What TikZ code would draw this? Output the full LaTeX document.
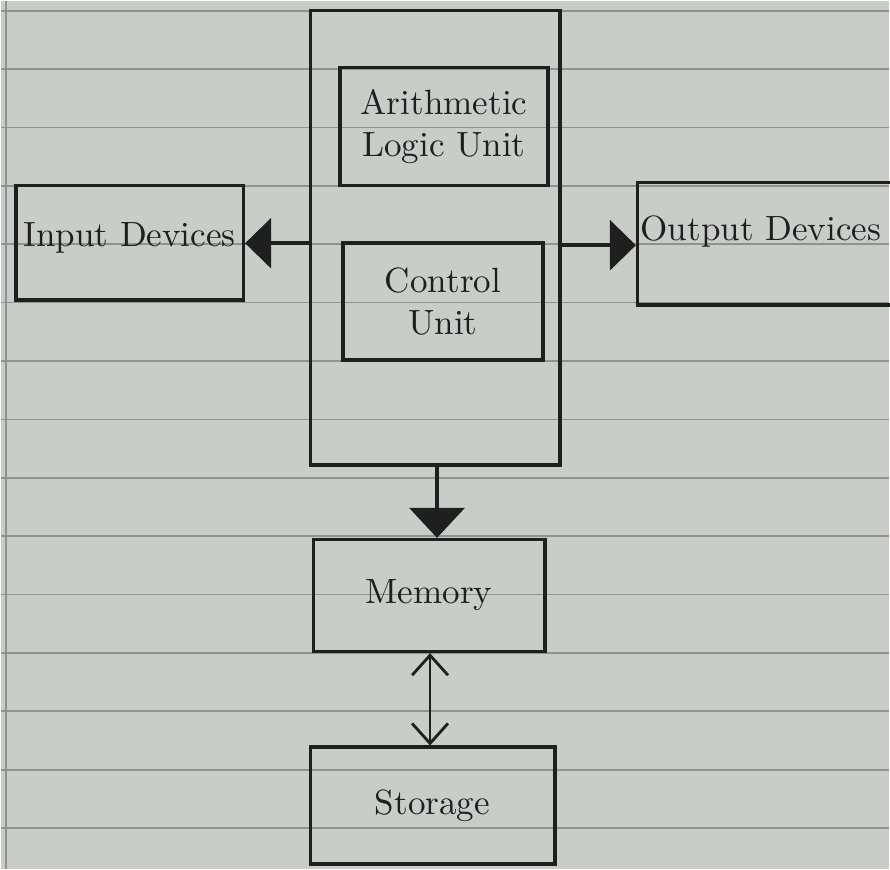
\documentclass[tikz,border=0pt]{standalone}
\usepackage{xcolor}
\usepackage{tikz}
\usetikzlibrary{arrows.meta, positioning, calc}
\definecolor{paper}{HTML}{C9CDC8}
\definecolor{ruling}{HTML}{8E938F}
\definecolor{ink}{HTML}{1E201F}

\begin{document}
\begin{tikzpicture}[
    unit/.style={rectangle, draw=ink, line width=1pt, minimum width=#1, inner sep=1pt, align=center, font=\normalsize, text=ink},
    flow/.style={draw=ink, line width=1pt, -{Triangle[length=2.6mm, width=5mm]}},
    swap/.style={draw=ink, line width=0.8pt, {Straight Barb[length=2mm, width=3.6mm]}-{Straight Barb[length=2mm, width=3.6mm]}}
]
% paper
\fill[paper] (0,0) rectangle (8.9,-8.7);
\foreach \k in {0,...,14}
  \draw[ruling, line width=0.5pt] (0,-0.1-0.585*\k) -- (8.9,-0.1-0.585*\k);
\draw[ruling, line width=0.4pt] (0.05,0) -- (0.05,-8.7);
\useasboundingbox (0,0) rectangle (8.9,-8.7);

% processor
\node[unit=25mm, minimum height=45.5mm] (cpu) at (4.35,-2.375) {};
\node[unit=20.8mm, minimum height=11.8mm] (alu) at (4.44,-1.26) {Arithmetic\\Logic Unit};
\node[unit=20mm, minimum height=11.7mm] (cu) at (4.43,-3.015) {Control\\Unit};

% peripherals
\node[unit=22.8mm, minimum height=11.5mm, text depth=1.6mm] (inp) at (1.29,-2.425) {Input Devices};
\node[unit=26.2mm, minimum height=12.3mm, text width=25.6mm, align=left, inner sep=0.3mm, text depth=3.2mm] (out) at (7.69,-2.435) {Output Devices};
\node[unit=23.2mm, minimum height=11.2mm] (mem) at (4.29,-5.96) {Memory};
\node[unit=24.5mm, minimum height=11.7mm] (sto) at (4.325,-8.065) {Storage};

% connectors
\draw[flow] (cpu.west |- 0,-2.43) -- (inp.east |- 0,-2.43);
\draw[flow] (cpu.east |- 0,-2.45) -- (out.west |- 0,-2.45);
\draw[flow, -{Triangle[length=3mm, width=5.5mm]}] (cpu.south) ++(0.02,0) coordinate (cpuout) -- (cpuout |- mem.north);
\draw[swap] (mem.south) ++(0.01,0) coordinate (memout) -- (memout |- sto.north);
\end{tikzpicture}
\end{document}
